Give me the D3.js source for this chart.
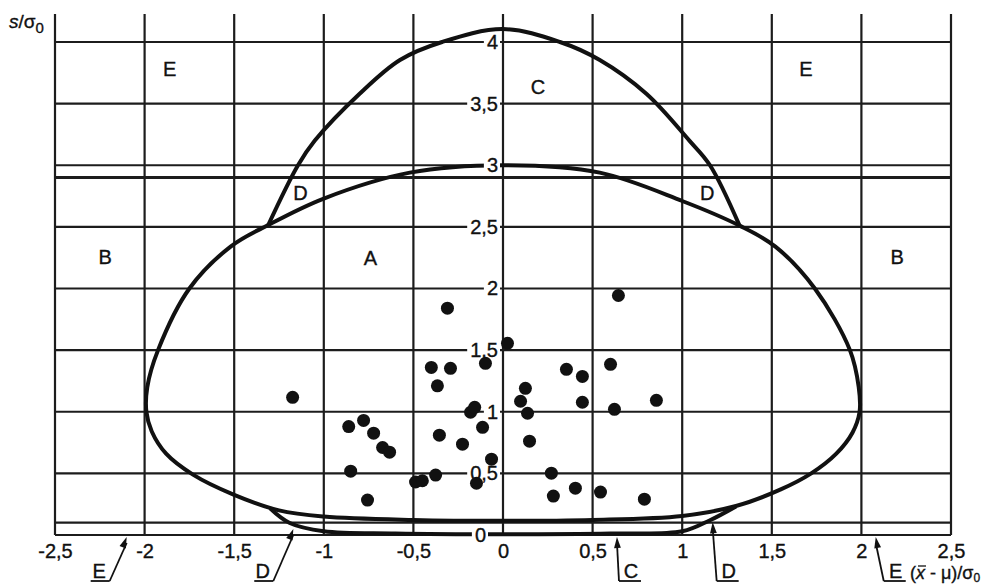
<!DOCTYPE html>
<html>
<head>
<meta charset="utf-8">
<script src="https://cdn.jsdelivr.net/npm/d3@7"></script>
<style>
    body { margin: 0; background: #fff; }
    text { font-family: "Liberation Sans", Arial, sans-serif; fill: #111; stroke: #111; stroke-width: 0.35px; }
</style>
</head>
<body>
<div id="chart"></div>
<script>
// ticks and grid
const xTicks = [-2.5, -2, -1.5, -1, -0.5, 0, 0.5, 1, 1.5, 2, 2.5];
const yTicks = [0, 0.5, 1, 1.5, 2, 2.5, 3, 3.5, 4];
const extraLines = [0.1, 2.9];

// boundary of region A (closed loop, [x, s])
const curveA = [
    [0, 3.0], [-0.52, 2.94], [-1.0, 2.73], [-1.31, 2.515], [-1.52, 2.34], [-1.75, 2.0],
    [-1.925, 1.5], [-1.985, 1.2], [-1.99, 1.0], [-1.96, 0.84], [-1.88, 0.66],
    [-1.73, 0.49], [-1.507, 0.33], [-1.25, 0.2], [-1.0, 0.15], [-0.5, 0.122],
    [0, 0.115], [0.5, 0.122], [1.0, 0.155], [1.3, 0.235], [1.55, 0.37], [1.72, 0.5],
    [1.86, 0.66], [1.95, 0.83], [1.99, 1.0], [1.985, 1.2], [1.936, 1.5], [1.74, 2.0],
    [1.52, 2.34], [1.32, 2.51], [1.0, 2.71], [0.54, 2.94]
];

// upper boundary of region C
const curveC = [
    [-1.31, 2.515], [-1.144, 3.0], [-1.05, 3.2], [-0.8, 3.58], [-0.575, 3.854],
    [-0.34, 4.0], [0, 4.105], [0.318, 4.0], [0.54, 3.854], [0.8, 3.58], [1.04, 3.2],
    [1.155, 3.0], [1.32, 2.51]
];

// lower boundary (D region at the bottom)
const curveDLow = [
    [-1.3, 0.217], [-1.19, 0.097], [-1.0, 0.03], [-0.6, 0.012], [0, 0.006],
    [0.6, 0.012], [1.0, 0.03], [1.155, 0.12], [1.3, 0.232]
];

// sample points
const pointsX = [-1.174, -0.861, -0.778, -0.722, -0.672, -0.633, -0.85, -0.756, -0.488, -0.45,
    -0.376, -0.4, -0.366, -0.355, -0.31, -0.293, -0.098, -0.181, -0.158, -0.226,
    -0.114, -0.064, -0.148, 0.025, 0.125, 0.098, 0.137, 0.148, 0.27, 0.281,
    0.354, 0.443, 0.443, 0.404, 0.6, 0.644, 0.622, 0.544, 0.856, 0.789];
const pointsS = [1.117, 0.88, 0.93, 0.826, 0.71, 0.672, 0.518, 0.283, 0.43, 0.44,
    0.486, 1.36, 1.21, 0.81, 1.84, 1.352, 1.393, 0.996, 1.036, 0.737,
    0.874, 0.615, 0.42, 1.555, 1.19, 1.085, 0.988, 0.761, 0.502, 0.316,
    1.344, 1.287, 1.077, 0.38, 1.385, 1.943, 1.02, 0.348, 1.093, 0.291];

// region letters
const regionNames = ["E", "E", "C", "D", "D", "B", "B", "A"];
const regionX = [-1.86, 1.69, 0.195, -1.13, 1.14, -2.22, 2.2, -0.74];
const regionS = [3.78, 3.78, 3.64, 2.78, 2.78, 2.26, 2.26, 2.25];

// bottom call-outs: letter, tip x, tip s, foot offset (px)
const noteNames = ["E", "D", "C", "D", "E"];
const noteX = [-2.1, -1.17, 0.636, 1.17, 2.08];
const noteS = [0, 0.065, 0, 0.12, 0];
const noteDx = [-17, -20, 2, 4, 8];

const fmt = d => String(d).replace(".", ",");

let margin = {top: 14, right: 50, bottom: 51, left: 55};
let width = 1001 - margin.left - margin.right;
let height = 586 - margin.top - margin.bottom;

let svgRoot = d3.select("#chart").append("svg")
    .attr("width", 1001)
    .attr("height", 586);
let svg = svgRoot.append("g")
    .attr("transform", `translate(${margin.left}, ${margin.top})`);

let xScale = d3.scaleLinear().domain([-2.5, 2.5]).range([0, width]);
let yScale = d3.scaleLinear().domain([0, 4]).range([height, height - 4 * 123.25]);
let sTop = yScale.invert(0);

// grid
let grid = svg.append("g").attr("class", "grid");
grid.selectAll(".vline")
    .data(xTicks)
    .enter().append("line")
    .attr("class", "vline")
    .attr("x1", d => xScale(d)).attr("x2", d => xScale(d))
    .attr("y1", yScale(0)).attr("y2", yScale(sTop))
    .attr("stroke", "#1c1c1c").attr("stroke-width", 2.2);
grid.selectAll(".hline")
    .data(yTicks.concat(extraLines))
    .enter().append("line")
    .attr("class", "hline")
    .attr("x1", xScale(-2.5)).attr("x2", xScale(2.5))
    .attr("y1", d => yScale(d)).attr("y2", d => yScale(d))
    .attr("stroke", "#1c1c1c")
    .attr("stroke-width", d => d === 2.9 ? 3 : 2.2);

// curves
let line = d3.line()
    .x(d => xScale(d[0]))
    .y(d => yScale(d[1]));
svg.append("path")
    .datum(curveA)
    .attr("d", line.curve(d3.curveCatmullRomClosed.alpha(0.5)))
    .attr("fill", "none").attr("stroke", "#111").attr("stroke-width", 4);
svg.append("path")
    .datum(curveC)
    .attr("d", line.curve(d3.curveCatmullRom.alpha(0.5)))
    .attr("fill", "none").attr("stroke", "#111").attr("stroke-width", 4);
svg.append("path")
    .datum(curveDLow)
    .attr("d", line.curve(d3.curveCatmullRom.alpha(0.5)))
    .attr("fill", "none").attr("stroke", "#111").attr("stroke-width", 4);

// x axis labels
let xAxis = d3.axisBottom(xScale).tickValues(xTicks).tickSize(0).tickPadding(9).tickFormat(fmt);
let xg = svg.append("g")
    .attr("transform", `translate(0, ${height})`)
    .call(xAxis);
xg.select(".domain").remove();
xg.selectAll("text").style("font-size", "20px").attr("fill", "#111");

// y axis labels on the s axis, white boxes behind
let yAxis = d3.axisLeft(yScale).tickValues(yTicks).tickSize(0).tickPadding(6).tickFormat(fmt);
let yg = svg.append("g")
    .attr("transform", `translate(${xScale(0)}, 0)`)
    .call(yAxis);
yg.select(".domain").remove();
yg.selectAll("text")
    .style("font-size", "20px").attr("fill", "#111")
    .attr("x", d => d === 0 ? -17 : -5);
yg.selectAll(".tick").each(function() {
    let t = d3.select(this).select("text");
    let b = t.node().getBBox();
    d3.select(this).insert("rect", "text")
        .attr("x", b.x - 3).attr("y", b.y + 3)
        .attr("width", b.width + 5).attr("height", b.height - 6)
        .attr("fill", "#fff");
});

// region letters
svg.selectAll(".region")
    .data(regionNames)
    .enter().append("text")
    .attr("class", "region")
    .attr("x", (d, i) => xScale(regionX[i]))
    .attr("y", (d, i) => yScale(regionS[i]))
    .attr("dy", "0.36em")
    .attr("text-anchor", "middle")
    .style("font-size", "20px")
    .text(d => d);

// points
svg.selectAll(".pt")
    .data(pointsX)
    .enter().append("circle")
    .attr("class", "pt")
    .attr("cx", d => xScale(d))
    .attr("cy", (d, i) => yScale(pointsS[i]))
    .attr("r", 6.5)
    .attr("fill", "#111");

// bottom call-outs with arrows
let footY = height + 46;
noteNames.forEach(function(name, i) {
    let tx = xScale(noteX[i]), ty = yScale(noteS[i]) + 2;
    let fx = tx + noteDx[i];
    let g = svg.append("g");
    g.append("line")
        .attr("x1", fx).attr("y1", footY).attr("x2", tx).attr("y2", ty + 6)
        .attr("stroke", "#111").attr("stroke-width", 1.8);
    let ang = Math.atan2(ty - footY, tx - fx);
    let len = 11, half = 3.4;
    let bx = tx - len * Math.cos(ang), by = ty - len * Math.sin(ang);
    let px = -Math.sin(ang) * half, py = Math.cos(ang) * half;
    g.append("path")
        .attr("d", `M${tx},${ty} L${bx + px},${by + py} L${bx - px},${by - py} Z`)
        .attr("fill", "#111");
    let left = noteDx[i] < 0;
    let ux1 = left ? fx - 19 : fx, ux2 = left ? fx : fx + 22;
    g.append("line")
        .attr("x1", ux1).attr("x2", ux2).attr("y1", footY).attr("y2", footY)
        .attr("stroke", "#111").attr("stroke-width", 1.8);
    g.append("text")
        .attr("x", (ux1 + ux2) / 2 + (left ? -1 : 1))
        .attr("y", footY - 3)
        .attr("text-anchor", "middle")
        .style("font-size", "20px")
        .text(name);
});

// axis titles
let yTitle = svgRoot.append("text")
    .attr("x", 9).attr("y", 28)
    .style("font-size", "19px");
yTitle.append("tspan").style("font-style", "italic").text("s");
yTitle.append("tspan").text("/σ");
yTitle.append("tspan").attr("dy", 5).style("font-size", "15px").text("0");

let xTitle = svgRoot.append("text")
    .attr("x", 910).attr("y", 579)
    .style("font-size", "18px");
xTitle.append("tspan").text("(");
xTitle.append("tspan").style("font-style", "italic").text("x");
xTitle.append("tspan").text(" - μ)/σ");
xTitle.append("tspan").attr("dy", 3).style("font-size", "12px").text("0");
// bar over the x
let xExt = xTitle.node().getExtentOfChar(1);
svgRoot.append("line")
    .attr("x1", xExt.x + 2).attr("x2", xExt.x + xExt.width + 1)
    .attr("y1", xExt.y + 3).attr("y2", xExt.y + 3)
    .attr("stroke", "#111").attr("stroke-width", 1.3);
</script>
</body>
</html>
